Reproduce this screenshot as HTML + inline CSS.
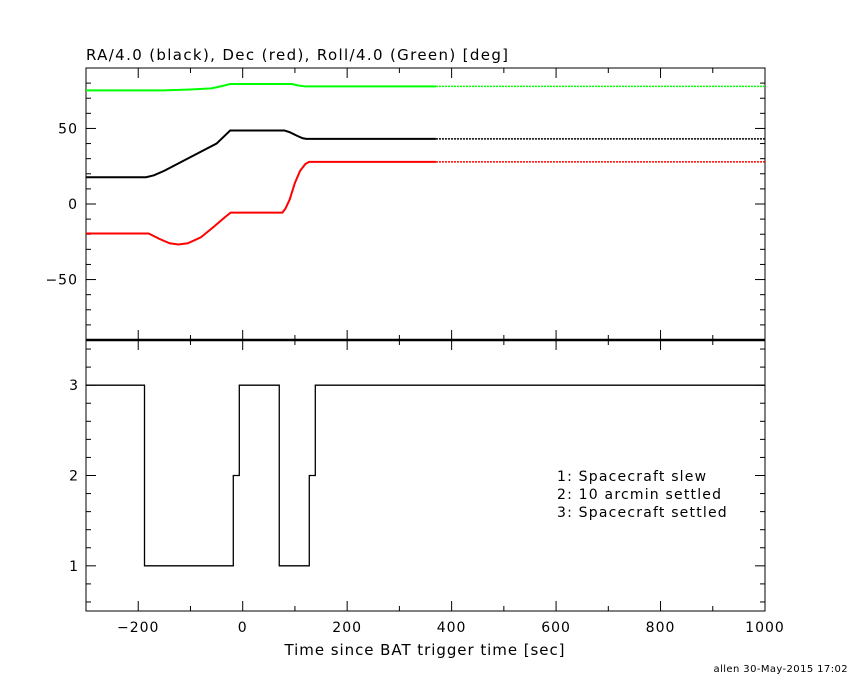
<!DOCTYPE html>
<html><head><meta charset="utf-8"><style>
body{margin:0;background:#fff;}
svg text{font-family:"DejaVu Sans","Liberation Sans",sans-serif;fill:#000;}
</style></head><body>
<svg id="c" width="850" height="680" xmlns="http://www.w3.org/2000/svg"></svg>
<script>
const tickX=[-200,0,200,400,600,800,1000];
const tickTop=[-50,0,50];
const tickBot=[1,2,3];
const raT=[-300,-185,-170,-150,-100,-50,-24,80,90,105,115,122,1000];
const raV=[17.7,17.7,19,22,31,40,48.6,48.6,47.5,45,43.5,43.1,43.1];
const decT=[-300,-180,-160,-140,-123,-105,-80,-55,-35,-23,76,82,90,100,110,120,127,1000];
const decV=[-19.5,-19.5,-23,-26,-26.8,-26,-22,-15,-9,-5.7,-5.7,-3,3,14,22,26.5,27.9,27.9];
const rollT=[-300,-150,-100,-60,-40,-24,95,105,120,1000];
const rollV=[75.2,75.2,75.8,76.5,78,79.4,79.4,78.5,77.8,77.8];
const stT=[-300,-188,-18,-6.5,70,127.5,139,1000];
const stV=[3,1,2,3,1,2,3];
const solidEnd=370;
const L=86,R=765,T1=68,B1=340,T2=340,B2=611;
const sx=t=>L+(t+300)/1300*(R-L);
const sy1=v=>T1+(90-v)/180*(B1-T1);
const sy2=v=>T2+(3.5-v)/3*(B2-T2);
const svg=document.getElementById('c');
const NS='http://www.w3.org/2000/svg';
function el(tag,attrs,txt){const e=document.createElementNS(NS,tag);for(const k in attrs)e.setAttribute(k,attrs[k]);if(txt!==undefined)e.textContent=txt;svg.appendChild(e);return e;}
let f=el('rect',{x:L,y:T1,width:R-L,height:B1-T1,fill:'none',stroke:'#000','stroke-width':1});

f=el('rect',{x:L,y:T2,width:R-L,height:B2-T2,fill:'none',stroke:'#000','stroke-width':1});

f=el('line',{x1:L,x2:R,y1:340,y2:340,stroke:'#000','stroke-width':2.5});

for(let t=-300;t<=1000;t+=100){const x=sx(t);const major=tickX.includes(t);const len=major?10:5;
 [[T1,1],[B1,-1],[T2,1],[B2,-1]].forEach(([y,d])=>{const l=el('line',{x1:x,x2:x,y1:y,y2:y+d*len,stroke:'#000'});});}
tickX.forEach(t=>{const tx=el('text',{x:sx(t),y:632,'text-anchor':'middle','font-size':14,'letter-spacing':1},t<0?'\u2212'+(-t):String(t));});
for(let v=-80;v<=80;v+=10){const y=sy1(v);const major=tickTop.includes(v);const len=major?10:5;
 [[L,1],[R,-1]].forEach(([x,d])=>{const l=el('line',{x1:x,x2:x+d*len,y1:y,y2:y,stroke:'#000'});});}
tickTop.forEach(v=>{const tx=el('text',{x:78,y:sy1(v)+5,'text-anchor':'end','font-size':14,'letter-spacing':1},v<0?'\u2212'+(-v):String(v));});
for(let i=3;i<=17;i++){const v=i/5;const y=sy2(v);const major=tickBot.includes(v);const len=major?10:5;
 [[L,1],[R,-1]].forEach(([x,d])=>{const l=el('line',{x1:x,x2:x+d*len,y1:y,y2:y,stroke:'#000'});});}
tickBot.forEach(v=>{const tx=el('text',{x:78,y:sy2(v)+5,'text-anchor':'end','font-size':14},String(v));});
function interp(T,V,t){for(let i=0;i<T.length-1;i++){if(t>=T[i]&&t<=T[i+1]){return V[i]+(V[i+1]-V[i])*(t-T[i])/(T[i+1]-T[i]);}}return V[V.length-1];}
function series(T,V,color,name){
 const a=[],b=[];
 T.forEach((t,i)=>{if(t<=solidEnd)a.push(sx(t)+','+sy1(V[i]));});
 const ve=interp(T,V,solidEnd);a.push(sx(solidEnd)+','+sy1(ve));
 b.push(sx(solidEnd)+','+sy1(ve));T.forEach((t,i)=>{if(t>solidEnd)b.push(sx(t)+','+sy1(V[i]));});
 let p=el('polyline',{points:a.join(' '),fill:'none',stroke:color,'stroke-width':2});
 
 p=el('polyline',{points:b.join(' '),fill:'none',stroke:color,'stroke-width':1.5,'stroke-dasharray':'2,1'});
 
}
series(rollT,rollV,'#00ff00','roll');
series(raT,raV,'#000000','ra');
series(decT,decV,'#ff0000','dec');
const pts=[];
for(let i=0;i<stV.length;i++){pts.push(sx(stT[i])+','+sy2(stV[i]));pts.push(sx(stT[i+1])+','+sy2(stV[i]));}
let st=el('polyline',{points:pts.join(' '),fill:'none',stroke:'#000','stroke-width':1.3});

let t=el('text',{x:86,y:60,'font-size':15,'letter-spacing':1.35},'RA/4.0 (black), Dec (red), Roll/4.0 (Green) [deg]');
t=el('text',{x:425,y:655,'text-anchor':'middle','font-size':15,'letter-spacing':0.95},'Time since BAT trigger time [sec]');
['1: Spacecraft slew','2: 10 arcmin settled','3: Spacecraft settled'].forEach((s,i)=>{const e=el('text',{x:557,y:481+i*18,'font-size':14,'letter-spacing':1.2},s);});
t=el('text',{x:848,y:672,'text-anchor':'end','font-size':10,'letter-spacing':0.4},'allen 30-May-2015 17:02');
</script>
</body></html>
